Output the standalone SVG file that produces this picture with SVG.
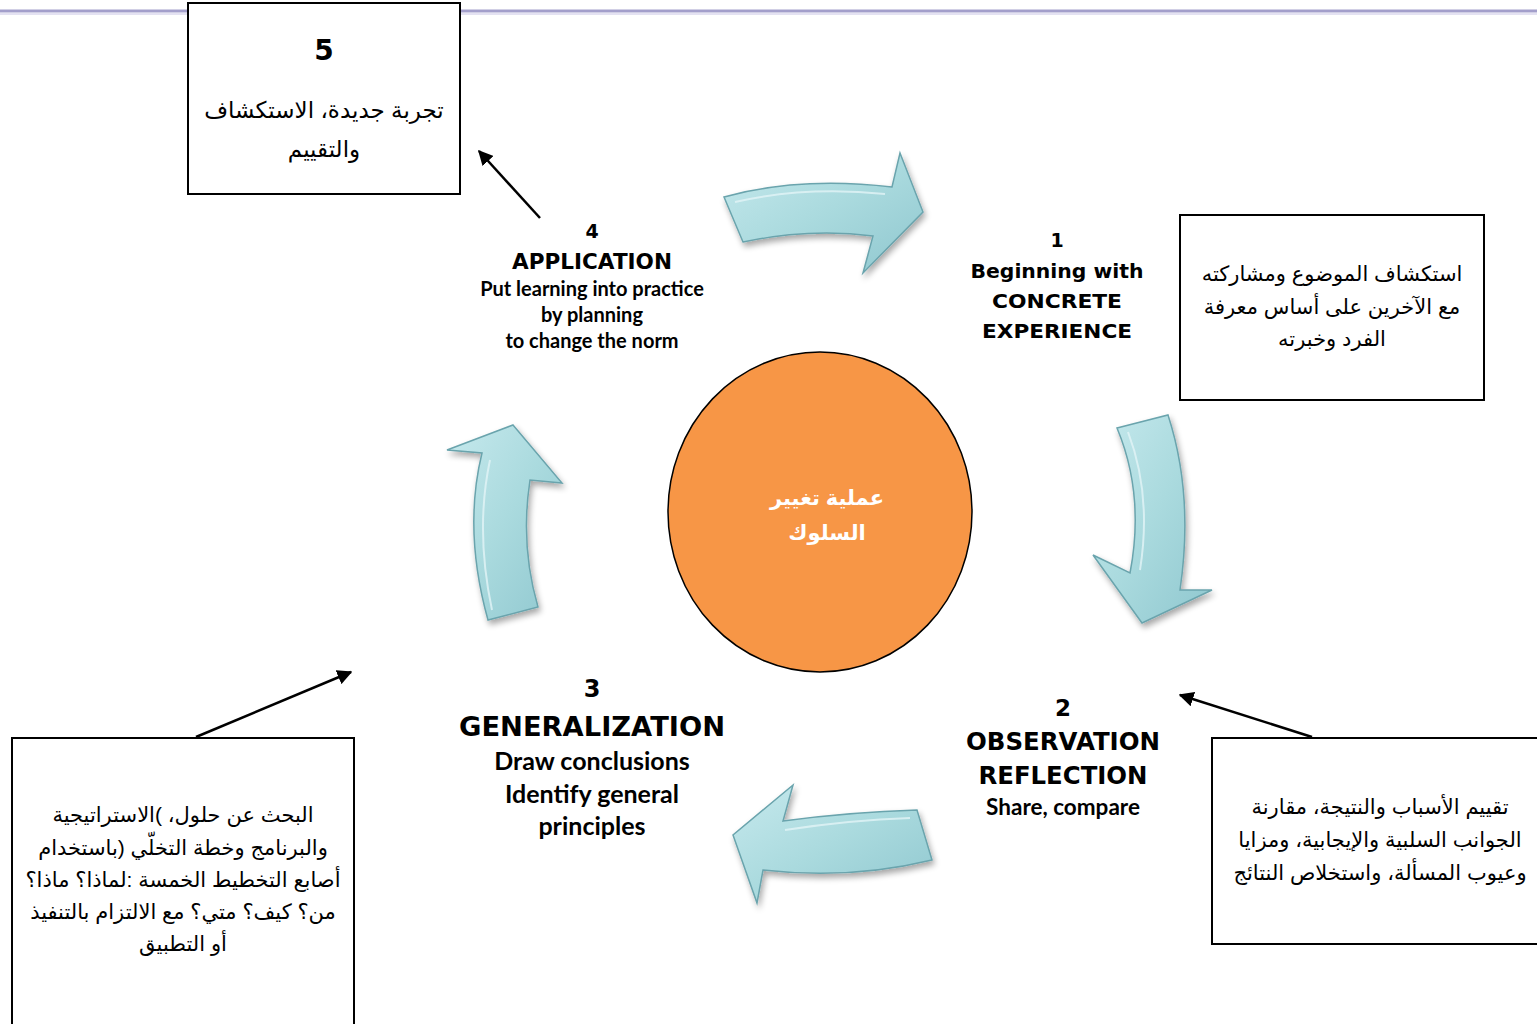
<svg xmlns="http://www.w3.org/2000/svg" width="1537" height="1024" viewBox="0 0 1537 1024">
<defs>
<style>
.box{fill:#fff;stroke:#000;stroke-width:2}
.ar{font-family:"Liberation Sans","DejaVu Sans",sans-serif;font-size:21px;fill:#000;text-anchor:middle;direction:rtl;unicode-bidi:embed}
.hv{font-family:"DejaVu Sans","Liberation Sans",sans-serif;font-weight:bold;fill:#000;text-anchor:middle}
.cb{font-family:Lato,"Open Sans","Liberation Sans",sans-serif;font-weight:bold;fill:#000;text-anchor:middle}
.big{fill:url(#ag);stroke:#6aa4ad;stroke-width:1.5;filter:url(#sh)}
.hl{fill:none;stroke:#e2f4f6;stroke-width:2;opacity:0.8}
.conn{stroke:#000;stroke-width:2.5;fill:none;marker-end:url(#ah)}
</style>
<linearGradient id="ag" x1="0" y1="0" x2="1" y2="1">
<stop offset="0" stop-color="#c6e9ed"/>
<stop offset="0.5" stop-color="#aadade"/>
<stop offset="1" stop-color="#8fc7cf"/>
</linearGradient>
<filter id="sh" x="-20%" y="-20%" width="140%" height="140%">
<feGaussianBlur in="SourceAlpha" stdDeviation="3"/>
<feOffset dx="2" dy="4" result="b"/>
<feComponentTransfer><feFuncA type="linear" slope="0.35"/></feComponentTransfer>
<feMerge><feMergeNode/><feMergeNode in="SourceGraphic"/></feMerge>
</filter>
<marker id="ah" viewBox="0 0 10 10" refX="9" refY="5" markerWidth="6" markerHeight="6" orient="auto" markerUnits="strokeWidth">
<path d="M0,0 L10,5 L0,10 Z" fill="#000"/>
</marker>
</defs>
<rect width="1537" height="1024" fill="#fff"/>
<g id="topline">
<line x1="0" y1="11" x2="1537" y2="11" stroke="#a39fcb" stroke-width="3"/>
<line x1="0" y1="14" x2="1537" y2="14" stroke="#e4e2f2" stroke-width="2"/>
</g>

<g id="cycle-arrows">
<path class="big" d="M724,197 Q800,176 892,187 L900,153 L923,212 L863,273 L873,236 Q810,228 743,242 Z"/>
<path class="hl" d="M735,202 Q805,186 885,194"/>
<path class="big" d="M1117,428 L1168,415 Q1194,495 1180,590 L1212,590 L1142,623 L1093,555 L1130,573 Q1145,495 1117,428 Z"/>
<path class="hl" d="M1128,432 Q1152,495 1140,570"/>
<path class="big" d="M917,810 Q850,812 783,821 L793,785 L733,835 L757,903 L763,870 Q850,880 932,860 Z"/>
<path class="hl" d="M910,818 Q850,820 785,830"/>
<path class="big" d="M513,425 L562,483 L530,480 Q520,545 538,607 L488,620 Q463,530 482,453 L447,450 Z"/>
<path class="hl" d="M490,460 Q475,530 492,610"/>
</g>

<g id="connectors">
<line class="conn" x1="540" y1="218" x2="479" y2="151"/>
<line class="conn" x1="1312" y1="737" x2="1180" y2="695"/>
<line class="conn" x1="196" y1="737" x2="351" y2="672"/>
</g>

<g id="node-center">
<ellipse cx="820" cy="512" rx="152" ry="160" fill="#f79646" stroke="#000" stroke-width="1.5"/>
<text class="ar" x="827" y="505" style="fill:#fff;font-weight:bold;font-size:21px">عملية تغيير</text>
<text class="ar" x="827" y="540" style="fill:#fff;font-weight:bold;font-size:21px">السلوك</text>
</g>

<g id="node-5">
<rect class="box" x="188" y="3" width="272" height="191"/>
<text class="hv" x="324" y="60" font-size="28">5</text>
<text class="ar" x="324" y="118" style="font-size:23px">تجربة جديدة، الاستكشاف</text>
<text class="ar" x="324" y="157" style="font-size:23px">والتقييم</text>
</g>

<g id="node-4">
<text class="hv" x="592" y="238" font-size="19">4</text>
<text class="hv" x="592" y="269" font-size="21" textLength="160" lengthAdjust="spacingAndGlyphs">APPLICATION</text>
<text class="cb" x="592" y="296" font-size="20">Put learning into practice</text>
<text class="cb" x="592" y="322" font-size="20">by planning</text>
<text class="cb" x="592" y="348" font-size="20">to change the norm</text>
</g>

<g id="node-1">
<text class="hv" x="1057" y="247" font-size="19">1</text>
<text class="hv" x="1057" y="278" font-size="19" textLength="173" lengthAdjust="spacingAndGlyphs">Beginning with</text>
<text class="hv" x="1057" y="308" font-size="19" textLength="130" lengthAdjust="spacingAndGlyphs">CONCRETE</text>
<text class="hv" x="1057" y="338" font-size="19" textLength="150" lengthAdjust="spacingAndGlyphs">EXPERIENCE</text>
</g>

<g id="note-1">
<rect class="box" x="1180" y="215" width="304" height="185"/>
<text class="ar" x="1332" y="281">استكشاف الموضوع ومشاركته</text>
<text class="ar" x="1332" y="314">مع الآخرين على أساس معرفة</text>
<text class="ar" x="1332" y="346">الفرد وخبرته</text>
</g>

<g id="node-2">
<text class="hv" x="1063" y="716" font-size="23">2</text>
<text class="hv" x="1063" y="750" font-size="24" textLength="194" lengthAdjust="spacingAndGlyphs">OBSERVATION</text>
<text class="hv" x="1063" y="784" font-size="24" textLength="169" lengthAdjust="spacingAndGlyphs">REFLECTION</text>
<text class="cb" x="1063" y="815" font-size="22.5">Share, compare</text>
</g>

<g id="note-2">
<rect class="box" x="1212" y="738" width="330" height="206"/>
<text class="ar" x="1380" y="814">تقييم الأسباب والنتيجة، مقارنة</text>
<text class="ar" x="1380" y="847">الجوانب السلبية والإيجابية، ومزايا</text>
<text class="ar" x="1380" y="880">وعيوب المسألة، واستخلاص النتائج</text>
</g>

<g id="node-3">
<text class="hv" x="592" y="697" font-size="24">3</text>
<text class="hv" x="592" y="736" font-size="27" textLength="266" lengthAdjust="spacingAndGlyphs">GENERALIZATION</text>
<text class="cb" x="592" y="770" font-size="25">Draw conclusions</text>
<text class="cb" x="592" y="803" font-size="25">Identify general</text>
<text class="cb" x="592" y="835" font-size="25">principles</text>
</g>

<g id="note-3">
<rect class="box" x="12" y="738" width="342" height="290"/>
<text class="ar" x="183" y="822">البحث عن حلول، )الاستراتيجية</text>
<text class="ar" x="183" y="855">والبرنامج وخطة التخلّي (باستخدام</text>
<text class="ar" x="183" y="887">أصابع التخطيط الخمسة :لماذا؟ ماذا؟</text>
<text class="ar" x="183" y="919">من؟ كيف؟ متي؟ مع الالتزام بالتنفيذ</text>
<text class="ar" x="183" y="951">أو التطبيق</text>
</g>
</svg>
